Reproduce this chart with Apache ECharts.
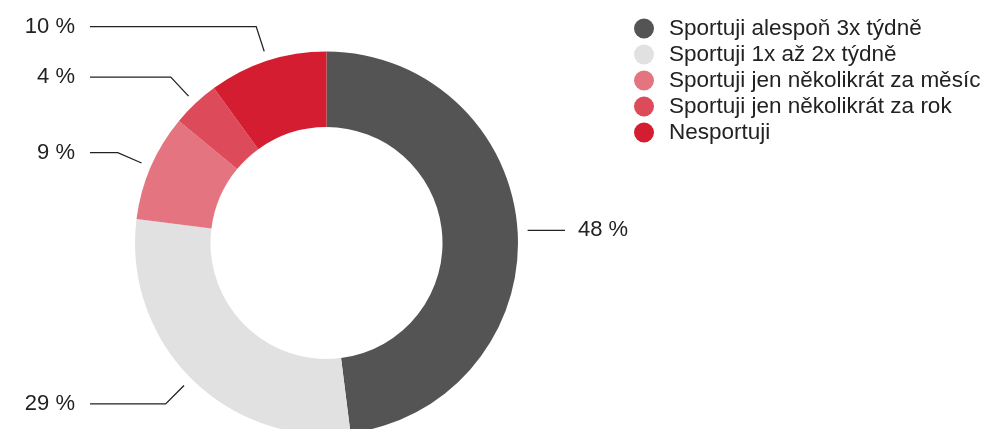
<!DOCTYPE html>
<html>
<head>
<meta charset="utf-8">
<title>Sport</title>
<script src="https://cdn.jsdelivr.net/npm/echarts@6/dist/echarts.min.js"></script>
<style>
  html, body { margin: 0; padding: 0; background: #ffffff; }
  #chart { width: 986px; height: 429px; }
</style>
</head>
<body>
<div id="chart"></div>
<script>
// Categories, values (percent) and slice colours
const categories = [
  'Sportuji alespoň 3x týdně',
  'Sportuji 1x až 2x týdně',
  'Sportuji jen několikrát za měsíc',
  'Sportuji jen několikrát za rok',
  'Nesportuji'
];
const values = [48, 29, 9, 4, 10];
const colors = ['#545454', '#e1e1e1', '#e4747f', '#dd4a59', '#d41d30'];

const FONT = '"Liberation Sans", Arial, Helvetica, sans-serif';
const CENTER = [326.5, 243];
const RADIUS = [116, 191.5];

// label columns
const LEFT_TEXT_X = 75;
const LEFT_LINE_END = 90;
const RIGHT_LINE_END = 565;
const RIGHT_TEXT_X = 578;
const LINE_GAP = 10;     // gap between ring and start of the leader line
const LINE_RADIAL = 26;  // length of the radial leader segment

const chart = echarts.init(document.getElementById('chart'), null, { renderer: 'canvas' });

chart.setOption({
  animation: false,
  backgroundColor: '#ffffff',
  legend: {
    orient: 'vertical',
    left: 629,
    top: 12,
    icon: 'circle',
    itemWidth: 40,
    itemHeight: 20,
    itemGap: 3,
    selectedMode: false,
    data: categories,
    textStyle: { fontFamily: FONT, fontSize: 22.5, lineHeight: 20.5, color: '#222222' }
  },
  series: [{
    type: 'pie',
    center: CENTER,
    radius: RADIUS,
    startAngle: 90,
    clockwise: true,
    avoidLabelOverlap: false,
    emphasis: { disabled: true },
    silent: true,
    itemStyle: { borderWidth: 0 },
    label: {
      show: true,
      position: 'outside',
      formatter: '{c} %',
      fontFamily: FONT,
      fontSize: 22,
      color: '#222222'
    },
    labelLine: {
      show: true,
      length: 20,
      length2: 20,
      lineStyle: { color: '#222222', width: 1.3 }
    },
    labelLayout: function (p) {
      const pts = p.labelLinePoints;
      if (!pts) return {};
      const p0 = pts[0];
      let dx = p0[0] - CENTER[0];
      let dy = p0[1] - CENTER[1];
      const len = Math.sqrt(dx * dx + dy * dy) || 1;
      dx /= len; dy /= len;
      const start = [p0[0] + dx * LINE_GAP, p0[1] + dy * LINE_GAP];
      if (dx < 0) {
        const bend = [start[0] + dx * LINE_RADIAL, start[1] + dy * LINE_RADIAL];
        return {
          x: LEFT_TEXT_X,
          y: bend[1],
          align: 'right',
          verticalAlign: 'middle',
          labelLinePoints: [start, bend, [LEFT_LINE_END, bend[1]]]
        };
      }
      // right side: a single horizontal leader
      return {
        x: RIGHT_TEXT_X,
        y: start[1],
        align: 'left',
        verticalAlign: 'middle',
        labelLinePoints: [start, start.slice(), [RIGHT_LINE_END, start[1]]]
      };
    },
    data: categories.map(function (name, i) {
      return { name: name, value: values[i], itemStyle: { color: colors[i] } };
    })
  }]
});
</script>
</body>
</html>
